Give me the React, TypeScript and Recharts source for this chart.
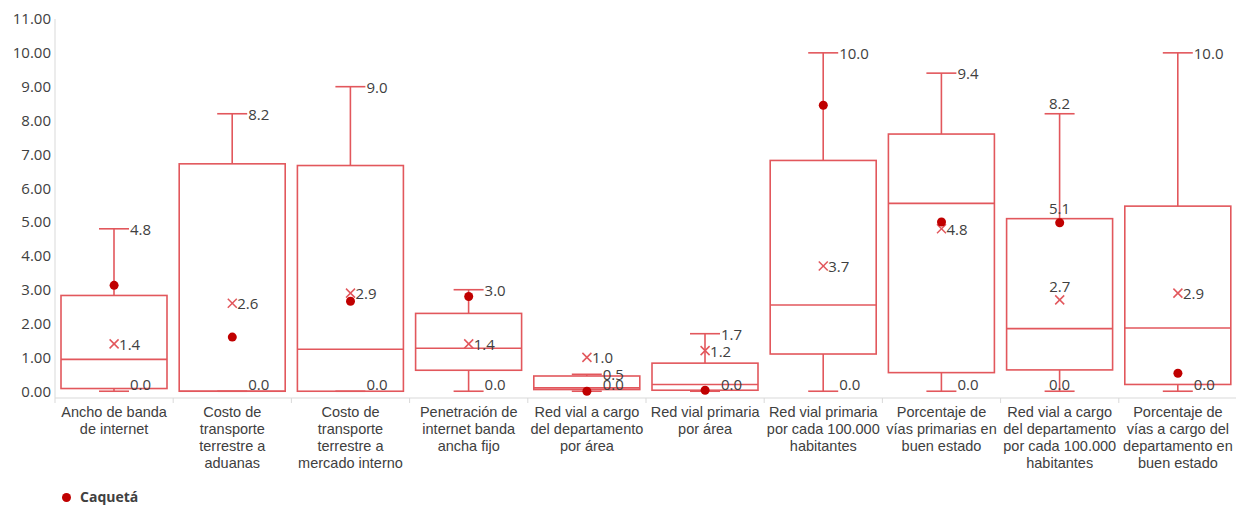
import { ComposedChart, Bar, Scatter, XAxis, YAxis, Legend } from 'recharts';

const categories = [
  'Ancho de banda\nde internet',
  'Costo de\ntransporte\nterrestre a\naduanas',
  'Costo de\ntransporte\nterrestre a\nmercado interno',
  'Penetración de\ninternet banda\nancha fijo',
  'Red vial a cargo\ndel departamento\npor área',
  'Red vial primaria\npor área',
  'Red vial primaria\npor cada 100.000\nhabitantes',
  'Porcentaje de\nvías primarias en\nbuen estado',
  'Red vial a cargo\ndel departamento\npor cada 100.000\nhabitantes',
  'Porcentaje de\nvías a cargo del\ndepartamento en\nbuen estado',
];

const minValues = [0, 0, 0, 0, 0, 0, 0, 0, 0, 0];
const q1Values = [0.08, 0, 0, 0.62, 0.05, 0.03, 1.1, 0.55, 0.63, 0.2];
const medianValues = [0.94, 0, 1.24, 1.27, 0.1, 0.2, 2.55, 5.55, 1.85, 1.87];
const q3Values = [2.83, 6.72, 6.67, 2.3, 0.45, 0.83, 6.82, 7.6, 5.1, 5.47];
const maxValues = [4.8, 8.2, 9.0, 3.0, 0.5, 1.7, 10.0, 9.4, 8.2, 10.0];
const meanValues = [1.4, 2.6, 2.9, 1.4, 1.0, 1.2, 3.7, 4.8, 2.7, 2.9];
const caquetaValues = [3.13, 1.6, 2.66, 2.8, 0, 0.03, 8.45, 5.0, 4.98, 0.53];

const yTicks = [0, 1, 2, 3, 4, 5, 6, 7, 8, 9, 10, 11];

// category whose labels Excel stacked above the marks instead of to the right
const centeredCategory = categories[8];

const BOX = '#E2575C';
const DOT = '#C00000';
const TEXT = '#404040';
const AXIS = '#D9D9D9';
const FONT = '"Open Sans", Lato, sans-serif';

const data = categories.map((name, i) => ({
  name,
  range: [minValues[i], maxValues[i]],
  min: minValues[i],
  q1: q1Values[i],
  median: medianValues[i],
  q3: q3Values[i],
  max: maxValues[i],
  mean: meanValues[i],
  caqueta: caquetaValues[i],
}));

const valueText = {
  fill: TEXT,
  fontSize: 15,
  fontFamily: FONT,
  dominantBaseline: 'central' as const,
};

function BoxShape(props: any) {
  const { x, y, width, height, payload } = props;
  const top = Math.min(y, y + height);
  const bottom = Math.max(y, y + height);
  const { min, q1, median, q3, max } = payload;
  const py = (v: number) => bottom - ((v - min) / (max - min)) * (bottom - top);
  const cx = x + width / 2;
  const cap = 15;
  const centered = payload.name === centeredCategory;
  const yQ1 = py(q1);
  const yQ3 = py(q3);
  const yMed = py(median);
  const yMax = py(max);
  const yMin = py(min);
  return (
    <g>
      <g stroke={BOX} strokeWidth={1.6} fill="none">
        <line x1={cx} x2={cx} y1={yMax} y2={yQ3} />
        <line x1={cx - cap} x2={cx + cap} y1={yMax} y2={yMax} />
        <line x1={cx} x2={cx} y1={yQ1} y2={yMin} />
        <line x1={cx - cap} x2={cx + cap} y1={yMin} y2={yMin} />
        <rect x={x} y={yQ3} width={width} height={Math.max(yQ1 - yQ3, 0)} />
        <line x1={x} x2={x + width} y1={yMed} y2={yMed} />
      </g>
      {centered ? (
        <g>
          <text x={cx} y={yMax - 11} textAnchor="middle" {...valueText}>{max.toFixed(1)}</text>
          <text x={cx} y={yQ3 - 11} textAnchor="middle" {...valueText}>{q3.toFixed(1)}</text>
          <text x={cx} y={yMin - 7} textAnchor="middle" {...valueText}>{min.toFixed(1)}</text>
        </g>
      ) : (
        <g>
          <text x={cx + cap + 1} y={yMax} {...valueText}>{max.toFixed(1)}</text>
          <text x={cx + cap + 1} y={yMin - 7} {...valueText}>{min.toFixed(1)}</text>
        </g>
      )}
    </g>
  );
}

function MeanShape(props: any) {
  const { cx, cy, payload } = props;
  const s = 4.5;
  const centered = payload.name === centeredCategory;
  return (
    <g>
      <g stroke={BOX} strokeWidth={1.5}>
        <line x1={cx - s} x2={cx + s} y1={cy - s} y2={cy + s} />
        <line x1={cx - s} x2={cx + s} y1={cy + s} y2={cy - s} />
      </g>
      {centered ? (
        <text x={cx} y={cy - 14} textAnchor="middle" {...valueText}>{payload.mean.toFixed(1)}</text>
      ) : (
        <text x={cx + 5} y={cy} {...valueText}>{payload.mean.toFixed(1)}</text>
      )}
    </g>
  );
}

function DotShape(props: any) {
  const { cx, cy } = props;
  return <circle cx={cx} cy={cy} r={4.5} fill={DOT} />;
}

function CategoryTick(props: any) {
  const { x, y, payload } = props;
  const lines = String(payload.value).split('\n');
  const half = payload.offset || 59;
  return (
    <g>
      <line x1={x - half} x2={x - half} y1={y - 8} y2={y - 3} stroke={AXIS} />
      <text
        x={x}
        y={y + 11}
        textAnchor="middle"
        fill={TEXT}
        fontSize={14.5}
        fontFamily='"Liberation Sans", Arial, sans-serif'
      >
        {lines.map((line, i) => (
          <tspan key={i} x={x} dy={i === 0 ? 0 : 17}>
            {line}
          </tspan>
        ))}
      </text>
    </g>
  );
}

function LegendContent() {
  return (
    <div style={{ position: 'relative', height: 22 }}>
      <div
        style={{
          position: 'absolute',
          left: 54,
          top: 6,
          display: 'flex',
          alignItems: 'center',
          fontFamily: FONT,
          fontWeight: 700,
          fontSize: 14,
          lineHeight: '16px',
          color: TEXT,
        }}
      >
        <span
          style={{
            display: 'inline-block',
            width: 9,
            height: 9,
            borderRadius: '50%',
            background: DOT,
            marginRight: 9,
          }}
        />
        Caquetá
      </div>
    </div>
  );
}

export default function App() {
  return (
    <ComposedChart
      width={1236}
      height={497}
      data={data}
      margin={{ top: 11, right: 7, left: 0, bottom: 0 }}
      barCategoryGap={6}
    >
      <XAxis
        dataKey="name"
        interval={0}
        height={85}
        axisLine={{ stroke: AXIS }}
        tickLine={false}
        tick={<CategoryTick />}
      />
      <YAxis
        domain={[-0.2, 11]}
        ticks={yTicks}
        interval={0}
        tickFormatter={(v: number) => v.toFixed(2)}
        width={47}
        axisLine={{ stroke: AXIS }}
        tickLine={false}
        tickSize={0}
        tickMargin={4}
        tick={{ fill: TEXT, fontSize: 15, fontFamily: FONT }}
      />
      <Bar dataKey="range" shape={<BoxShape />} isAnimationActive={false} />
      <Scatter dataKey="mean" shape={<MeanShape />} isAnimationActive={false} />
      <Scatter dataKey="caqueta" name="Caquetá" shape={<DotShape />} isAnimationActive={false} />
      <Legend verticalAlign="bottom" align="left" height={22} content={<LegendContent />} />
    </ComposedChart>
  );
}
